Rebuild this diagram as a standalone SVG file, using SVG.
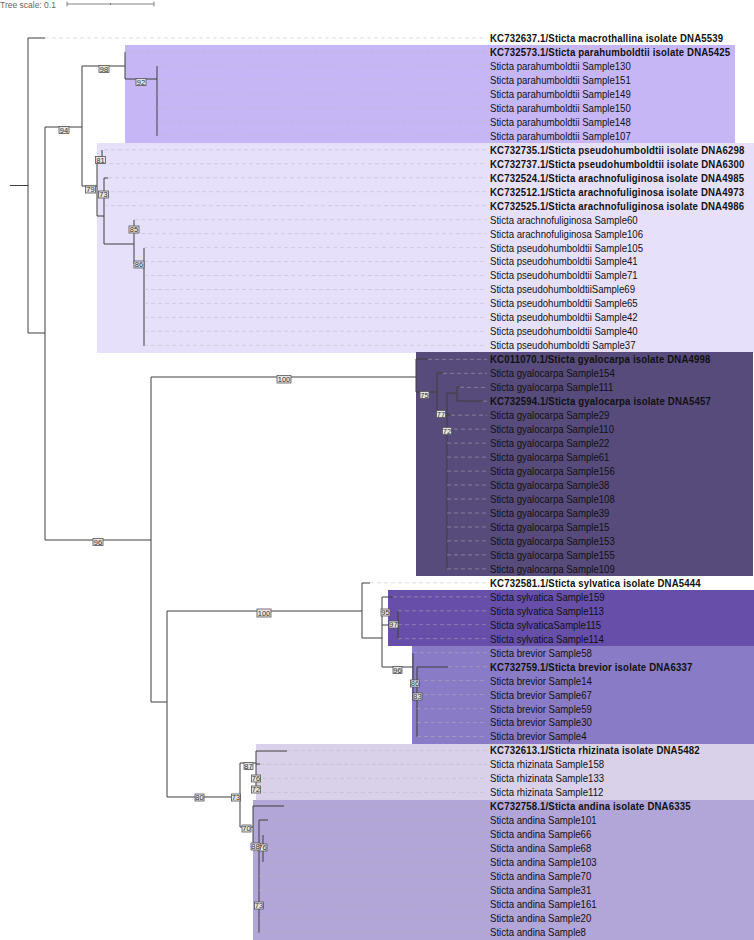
<svg xmlns="http://www.w3.org/2000/svg" width="754" height="940" viewBox="0 0 754 940">
<style>
.t{fill:none;stroke:#3e3e3e;stroke-width:1}
.d{fill:none;stroke:#b8b8b8;stroke-width:0.8;stroke-dasharray:4 3;opacity:0.6}
.lb{font-family:"Liberation Sans",Arial,sans-serif;font-size:11.5px;fill:#111}
.b{font-weight:bold;letter-spacing:0.2px}
.bs rect{fill:#e6e6e6;stroke:#555;stroke-width:0.8}
.bs text{font-family:"Liberation Sans",Arial,sans-serif;font-size:7.5px;fill:#333;text-anchor:middle}
</style>
<rect width="754" height="940" fill="#fff"/>
<g id="scale">
<text x="0" y="7.5" font-family="Liberation Sans, Arial, sans-serif" font-size="8.5" fill="#666">Tree scale: 0.1</text>
<path d="M67 4H154M67 1.5V6.5M154 1.5V6.5M110.5 3V5" stroke="#666" stroke-width="0.8" fill="none"/>
</g>
<g id="clade-backgrounds">
<rect x="125" y="45" width="610" height="98" fill="#c6b6f6"/>
<rect x="97" y="143" width="657" height="210" fill="#e7e0fb"/>
<rect x="416" y="352" width="337" height="224" fill="#574b7b"/>
<rect x="388" y="590" width="366" height="56" fill="#674ea9"/>
<rect x="412" y="646" width="342" height="98" fill="#8a7bc6"/>
<rect x="256" y="744" width="498" height="56" fill="#d9d1ea"/>
<rect x="253" y="800" width="501" height="140" fill="#b2a5d7"/>
</g>
<g id="connectors">
<path class="t" d="M10 185.5H28M28 38V333M28 38H45M28 333H45
M45 127V540M45 127H82M45 540H151
M82 66V186M82 66H125M82 186H97
M125 52V79M125 79H157M157 66V136
M97 157V216M97 157H102M97 216H104M102 150V164
M104 178V244M104 178H108M104 244H134M134 220V264M134 264H144M144 248V346
M151 377V702M151 377H416M151 702H167
M416 359V392M416 359H428M416 392H437
M437 373V416M437 373H443M437 416H447
M447 393V569M447 393H457M447 415H451
M457 387V401M457 387H460M457 401H483
M167 611V797M167 611H362M167 797H240
M362 583V638M362 583H370M362 638H382
M382 597V667M382 597H393M382 625H398M382 667H413M398 611V639
M413 653V700M413 700H417M417 667V737M417 667H448
M240 763V827M240 763H256M240 827H253
M256 751V792M256 751H287M256 764H260
M253 806V847M253 806H284M253 847H259
M259 820V933M259 820H268M259 848H263M263 835V862"/>
<path class="d" d="M45 38H487M125 52H487M157 65.9H487M157 79.9H487M157 93.9H487M157 107.9H487M157 121.8H487M157 135.8H487
M104 149.8H487M102 163.7H487M108 177.7H487M104 191.7H487M104 205.6H487M134 219.6H487M134 233.6H487
M144 247.6H487M144 261.5H487M144 275.5H487M144 289.5H487M144 303.4H487M144 317.4H487M144 331.4H487M144 345.3H487
M428 359.3H487M443 373.3H487M460 387.3H487M483 401.2H487M451 415.2H487M447 429.2H487M447 443.1H487M447 457.1H487M447 471.1H487M447 485H487M447 499H487M447 513H487M447 527H487M447 540.9H487M447 554.9H487M447 568.9H487
M370 582.8H487M393 596.8H487M398 610.8H487M398 624.7H487M398 638.7H487
M413 652.7H487M448 666.7H487M417 680.6H487M417 694.6H487M417 708.6H487M417 722.5H487M417 736.5H487
M287 750.5H487M260 764.4H487M256 778.4H487M256 792.4H487
M284 806.4H487M268 820.3H487M263 834.3H487M263 848.3H487M263 862.2H487M259 876.2H487M259 890.2H487M259 904.1H487M259 918.1H487M259 932.1H487"/>
</g>
<g id="bootstrap" class="bs">
<g id="bs98"><rect x="99" y="65.5" width="10" height="7"/><text x="104" y="71.5">98</text></g>
<g id="bs92"><rect x="136" y="78.5" width="10" height="7"/><text x="141" y="84.5">92</text></g>
<g id="bs94"><rect x="59" y="126.5" width="10" height="7"/><text x="64" y="132.5">94</text></g>
<g id="bs81"><rect x="95.5" y="156.5" width="10" height="7"/><text x="100.5" y="162.5">81</text></g>
<g id="bs79"><rect x="85.5" y="186" width="10" height="7"/><text x="90.5" y="192">79</text></g>
<g id="bs73a"><rect x="98.5" y="191" width="10" height="7"/><text x="103.5" y="197">73</text></g>
<g id="bs85"><rect x="129" y="226" width="10" height="7"/><text x="134" y="232">85</text></g>
<g id="bs86a"><rect x="134" y="261" width="10" height="7"/><text x="139" y="267">86</text></g>
<g id="bs100a"><rect x="277" y="375.5" width="14" height="7.5"/><text x="284" y="381.5">100</text></g>
<g id="bs96a"><rect x="93" y="538.5" width="10" height="7"/><text x="98" y="544.5">96</text></g>
<g id="bs75"><rect x="420" y="391.5" width="9" height="7"/><text x="424.5" y="397.5">75</text></g>
<g id="bs77"><rect x="436.5" y="410.5" width="9" height="7"/><text x="441" y="416.5">77</text></g>
<g id="bs72a"><rect x="442.5" y="427.5" width="9" height="7"/><text x="447" y="433.5">72</text></g>
<g id="bs100b"><rect x="257" y="609" width="14" height="8"/><text x="264" y="615.5">100</text></g>
<g id="bs95"><rect x="381" y="609" width="9" height="7"/><text x="385.5" y="615">95</text></g>
<g id="bs97"><rect x="389" y="621" width="9" height="7"/><text x="393.5" y="627">97</text></g>
<g id="bs96b"><rect x="393" y="666.5" width="9" height="7"/><text x="397.5" y="672.5">96</text></g>
<g id="bs86b"><rect x="410.5" y="680" width="9" height="7"/><text x="415" y="686">86</text></g>
<g id="bs83"><rect x="413" y="693" width="9" height="7"/><text x="417.5" y="699">83</text></g>
<g id="bs80"><rect x="195" y="794" width="9" height="7"/><text x="199.5" y="800">80</text></g>
<g id="bs73b"><rect x="231.5" y="794" width="9" height="7"/><text x="236" y="800">73</text></g>
<g id="bs87"><rect x="244" y="762.5" width="9" height="7"/><text x="248.5" y="768.5">87</text></g>
<g id="bs76a"><rect x="251.5" y="775" width="9" height="7"/><text x="256" y="781">76</text></g>
<g id="bs72b"><rect x="251.5" y="786" width="9" height="7"/><text x="256" y="792">72</text></g>
<g id="bs70"><rect x="242" y="825" width="9" height="7"/><text x="246.5" y="831">70</text></g>
<g id="bs76b"><rect x="258" y="844" width="9" height="7"/><text x="262.5" y="850">76</text></g>
<g id="bs88"><rect x="251" y="843" width="9" height="7"/><text x="255.5" y="849">88</text></g>
<g id="bs73c"><rect x="254.5" y="902" width="9" height="7"/><text x="259" y="908">73</text></g>
</g>
<g id="leaves" class="lb" transform="translate(490 0) scale(0.835 1)">
<g id="leaf1"><text class="b" y="42">KC732637.1/Sticta macrothallina isolate DNA5539</text></g>
<g id="leaf2"><text class="b" y="56">KC732573.1/Sticta parahumboldtii isolate DNA5425</text></g>
<g id="leaf3"><text y="69.9">Sticta parahumboldtii Sample130</text></g>
<g id="leaf4"><text y="83.9">Sticta parahumboldtii Sample151</text></g>
<g id="leaf5"><text y="97.9">Sticta parahumboldtii Sample149</text></g>
<g id="leaf6"><text y="111.9">Sticta parahumboldtii Sample150</text></g>
<g id="leaf7"><text y="125.8">Sticta parahumboldtii Sample148</text></g>
<g id="leaf8"><text y="139.8">Sticta parahumboldtii Sample107</text></g>
<g id="leaf9"><text class="b" y="153.8">KC732735.1/Sticta pseudohumboldtii isolate DNA6298</text></g>
<g id="leaf10"><text class="b" y="167.7">KC732737.1/Sticta pseudohumboldtii isolate DNA6300</text></g>
<g id="leaf11"><text class="b" y="181.7">KC732524.1/Sticta arachnofuliginosa isolate DNA4985</text></g>
<g id="leaf12"><text class="b" y="195.7">KC732512.1/Sticta arachnofuliginosa isolate DNA4973</text></g>
<g id="leaf13"><text class="b" y="209.6">KC732525.1/Sticta arachnofuliginosa isolate DNA4986</text></g>
<g id="leaf14"><text y="223.6">Sticta arachnofuliginosa Sample60</text></g>
<g id="leaf15"><text y="237.6">Sticta arachnofuliginosa Sample106</text></g>
<g id="leaf16"><text y="251.6">Sticta pseudohumboldtii Sample105</text></g>
<g id="leaf17"><text y="265.5">Sticta pseudohumboldtii Sample41</text></g>
<g id="leaf18"><text y="279.5">Sticta pseudohumboldtii Sample71</text></g>
<g id="leaf19"><text y="293.5">Sticta pseudohumboldtiiSample69</text></g>
<g id="leaf20"><text y="307.4">Sticta pseudohumboldtii Sample65</text></g>
<g id="leaf21"><text y="321.4">Sticta pseudohumboldtii Sample42</text></g>
<g id="leaf22"><text y="335.4">Sticta pseudohumboldtii Sample40</text></g>
<g id="leaf23"><text y="349.3">Sticta pseudohumboldti Sample37</text></g>
<g id="leaf24"><text class="b" y="363.3">KC011070.1/Sticta gyalocarpa isolate DNA4998</text></g>
<g id="leaf25"><text y="377.3">Sticta gyalocarpa Sample154</text></g>
<g id="leaf26"><text y="391.3">Sticta gyalocarpa Sample111</text></g>
<g id="leaf27"><text class="b" y="405.2">KC732594.1/Sticta gyalocarpa isolate DNA5457</text></g>
<g id="leaf28"><text y="419.2">Sticta gyalocarpa Sample29</text></g>
<g id="leaf29"><text y="433.2">Sticta gyalocarpa Sample110</text></g>
<g id="leaf30"><text y="447.1">Sticta gyalocarpa Sample22</text></g>
<g id="leaf31"><text y="461.1">Sticta gyalocarpa Sample61</text></g>
<g id="leaf32"><text y="475.1">Sticta gyalocarpa Sample156</text></g>
<g id="leaf33"><text y="489">Sticta gyalocarpa Sample38</text></g>
<g id="leaf34"><text y="503">Sticta gyalocarpa Sample108</text></g>
<g id="leaf35"><text y="517">Sticta gyalocarpa Sample39</text></g>
<g id="leaf36"><text y="531">Sticta gyalocarpa Sample15</text></g>
<g id="leaf37"><text y="544.9">Sticta gyalocarpa Sample153</text></g>
<g id="leaf38"><text y="558.9">Sticta gyalocarpa Sample155</text></g>
<g id="leaf39"><text y="572.9">Sticta gyalocarpa Sample109</text></g>
<g id="leaf40"><text class="b" y="586.8">KC732581.1/Sticta sylvatica isolate DNA5444</text></g>
<g id="leaf41"><text y="600.8">Sticta sylvatica Sample159</text></g>
<g id="leaf42"><text y="614.8">Sticta sylvatica Sample113</text></g>
<g id="leaf43"><text y="628.7">Sticta sylvaticaSample115</text></g>
<g id="leaf44"><text y="642.7">Sticta sylvatica Sample114</text></g>
<g id="leaf45"><text y="656.7">Sticta brevior Sample58</text></g>
<g id="leaf46"><text class="b" y="670.7">KC732759.1/Sticta brevior isolate DNA6337</text></g>
<g id="leaf47"><text y="684.6">Sticta brevior Sample14</text></g>
<g id="leaf48"><text y="698.6">Sticta brevior Sample67</text></g>
<g id="leaf49"><text y="712.6">Sticta brevior Sample59</text></g>
<g id="leaf50"><text y="726.5">Sticta brevior Sample30</text></g>
<g id="leaf51"><text y="740.5">Sticta brevior Sample4</text></g>
<g id="leaf52"><text class="b" y="754.5">KC732613.1/Sticta rhizinata isolate DNA5482</text></g>
<g id="leaf53"><text y="768.4">Sticta rhizinata Sample158</text></g>
<g id="leaf54"><text y="782.4">Sticta rhizinata Sample133</text></g>
<g id="leaf55"><text y="796.4">Sticta rhizinata Sample112</text></g>
<g id="leaf56"><text class="b" y="810.4">KC732758.1/Sticta andina isolate DNA6335</text></g>
<g id="leaf57"><text y="824.3">Sticta andina Sample101</text></g>
<g id="leaf58"><text y="838.3">Sticta andina Sample66</text></g>
<g id="leaf59"><text y="852.3">Sticta andina Sample68</text></g>
<g id="leaf60"><text y="866.2">Sticta andina Sample103</text></g>
<g id="leaf61"><text y="880.2">Sticta andina Sample70</text></g>
<g id="leaf62"><text y="894.2">Sticta andina Sample31</text></g>
<g id="leaf63"><text y="908.1">Sticta andina Sample161</text></g>
<g id="leaf64"><text y="922.1">Sticta andina Sample20</text></g>
<g id="leaf65"><text y="936.1">Sticta andina Sample8</text></g>
</g>
</svg>
